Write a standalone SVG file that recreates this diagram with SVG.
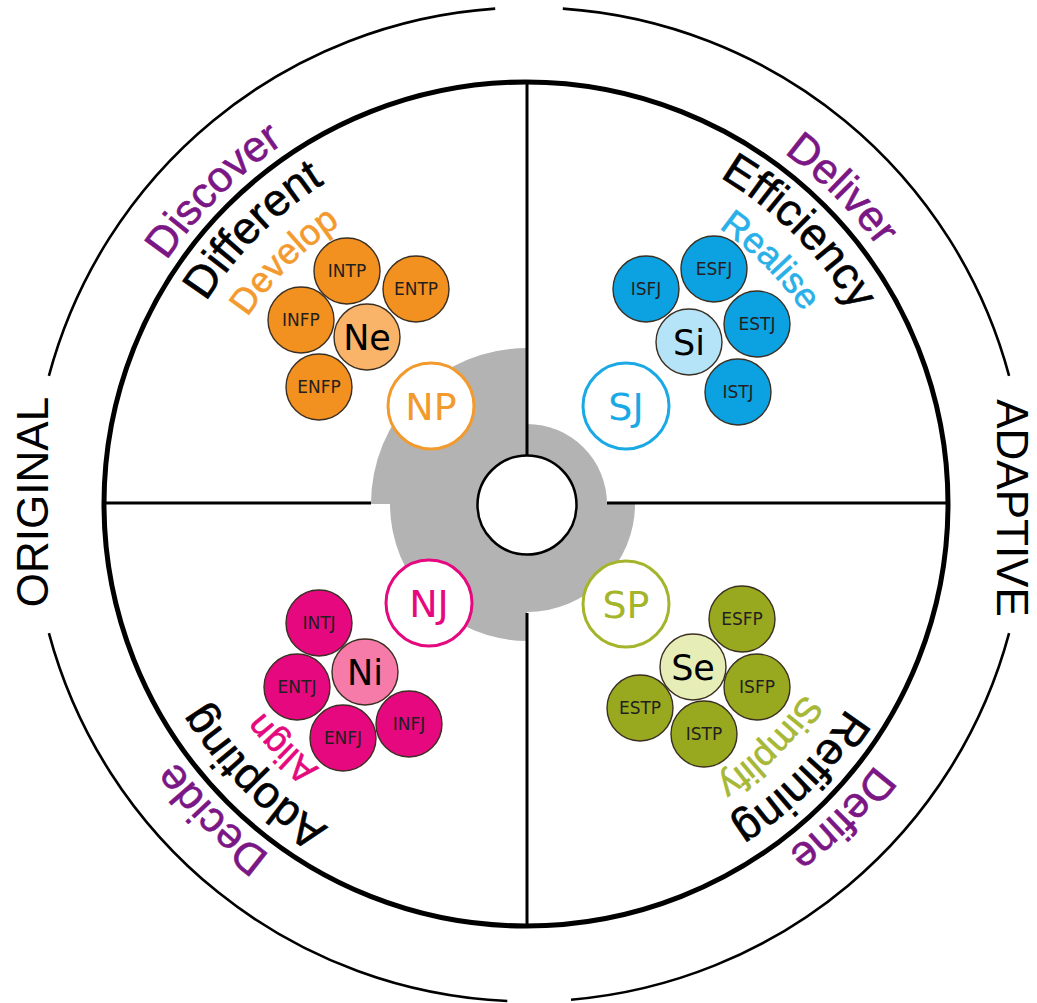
<svg xmlns="http://www.w3.org/2000/svg" xmlns:xlink="http://www.w3.org/1999/xlink" width="1037" height="1003" viewBox="0 0 1037 1003">
  <style>
    .t { font-family: "DejaVu Sans", "Liberation Sans", sans-serif; }
    .cap { font-family: "Liberation Sans", Arial, sans-serif; stroke-width: 0.6; }
    .side { font-family: "Liberation Sans", Arial, sans-serif; font-size: 44px; fill: #000; text-anchor: middle; }
    .ring { fill: none; stroke: #000; }
    .outer { stroke-width: 2.6; }
    .main { stroke-width: 5; }
    .div { stroke: #000; stroke-width: 3; fill: none; }
    .hubfill { fill: #b3b3b3; }
    .type circle { stroke: #3a2f22; stroke-width: 1.4; }
    .type text { font-size: 17px; text-anchor: middle; fill: #231f20; }
    .fn circle { stroke: #3a2f22; stroke-width: 1.4; }
    .fn text { font-size: 35px; text-anchor: middle; fill: #000; }
    .temp circle { fill: #fff; stroke-width: 3; }
    .temp text { font-size: 38px; text-anchor: middle; }
    .phase { font-size: 43px; fill: #7b1685; stroke: #7b1685; }
    .value { font-size: 45px; fill: #000; stroke: #000; }
    .verb { font-size: 36px; }
    .orange { fill: #f2911f; }
    .orange-l { fill: #f9b46a; }
    .blue { fill: #0ca1e0; }
    .blue-l { fill: #b5e3f7; }
    .pink { fill: #e5087e; }
    .pink-l { fill: #f67ba9; }
    .olive { fill: #98a91f; }
    .olive-l { fill: #e7edb6; }
  </style>
  <defs>
    <!-- semicircular guides centred on each quadrant's diagonal, clockwise -->
    <path id="p-ul-442" d="M214.5,816.5 A442,442 0 0 1 839.5,191.5"/>
    <path id="p-ur-442" d="M214.5,191.5 A442,442 0 0 1 839.5,816.5"/>
    <path id="p-lr-442" d="M839.5,191.5 A442,442 0 0 1 214.5,816.5"/>
    <path id="p-ll-442" d="M839.5,816.5 A442,442 0 0 1 214.5,191.5"/>
    <path id="p-ul-380" d="M258.3,772.7 A380,380 0 0 1 795.7,235.3"/>
    <path id="p-ur-380" d="M258.3,235.3 A380,380 0 0 1 795.7,772.7"/>
    <path id="p-lr-380" d="M795.7,235.3 A380,380 0 0 1 258.3,772.7"/>
    <path id="p-ll-380" d="M795.7,772.7 A380,380 0 0 1 258.3,235.3"/>
    <path id="p-ul-340" d="M286.6,744.4 A340,340 0 0 1 767.4,263.6"/>
    <path id="p-ur-340" d="M286.6,263.6 A340,340 0 0 1 767.4,744.4"/>
    <path id="p-lr-340" d="M767.4,263.6 A340,340 0 0 1 286.6,744.4"/>
    <path id="p-ll-340" d="M767.4,744.4 A340,340 0 0 1 286.6,263.6"/>
  </defs>

  <rect x="0" y="0" width="1037" height="1003" fill="#fff"/>

  <!-- outer ring, broken at top, bottom and both sides -->
  <g id="outer-ring" class="ring outer">
    <path d="M48.9,375.9 A497,497 0 0 1 495.2,8.6"/>
    <path d="M562.8,8.6 A497,497 0 0 1 1009.1,375.9"/>
    <path d="M1009.1,633.1 A497,497 0 0 1 571,999.7"/>
    <path d="M507.3,1001 A497,497 0 0 1 48.9,633.1"/>
  </g>

  <g id="axis-labels">
    <text class="side" transform="translate(48,502) rotate(-90)">ORIGINAL</text>
    <text class="side" transform="translate(997,508) rotate(90)">ADAPTIVE</text>
  </g>

  <!-- main wheel -->
  <g id="wheel">
    <circle cx="526" cy="504" r="422" fill="#fff" class="ring main"/>
  </g>

  <!-- grey hub sectors -->
  <g id="hub">
    <path class="hubfill" d="M527,504 L371,504 A156,156 0 0 1 527,348 Z"/>
    <path class="hubfill" d="M527,504 L527,424 A80,80 0 0 1 607,504 Z"/>
    <path class="hubfill" d="M527,504 L635,504 A108,108 0 0 1 527,612 Z"/>
    <path class="hubfill" d="M527,504 L527,641 A137,137 0 0 1 390,504 Z"/>
  </g>

  <!-- quadrant dividers -->
  <g id="connectors">
    <line class="div" x1="527" y1="82" x2="527" y2="456"/>
    <line class="div" x1="527" y1="613" x2="527" y2="926"/>
    <line class="div" x1="104" y1="503" x2="371" y2="503"/>
    <line class="div" x1="607" y1="503" x2="946" y2="503"/>
  </g>

  <g id="core">
    <circle cx="527" cy="505" r="49.5" fill="#fff" stroke="#000" stroke-width="2.5"/>
  </g>

  <!-- ring captions -->
  <g id="captions" class="cap">
    <text class="phase"><textPath href="#p-ul-442" xlink:href="#p-ul-442" startOffset="50%" text-anchor="middle">Discover</textPath></text>
    <text class="phase"><textPath href="#p-ur-442" xlink:href="#p-ur-442" startOffset="50%" text-anchor="middle">Deliver</textPath></text>
    <text class="phase"><textPath href="#p-lr-442" xlink:href="#p-lr-442" startOffset="50%" text-anchor="middle">Define</textPath></text>
    <text class="phase"><textPath href="#p-ll-442" xlink:href="#p-ll-442" startOffset="50%" text-anchor="middle">Decide</textPath></text>

    <text class="value"><textPath href="#p-ul-380" xlink:href="#p-ul-380" startOffset="50%" text-anchor="middle">Different</textPath></text>
    <text class="value"><textPath href="#p-ur-380" xlink:href="#p-ur-380" startOffset="50%" text-anchor="middle">Efficiency</textPath></text>
    <text class="value"><textPath href="#p-lr-380" xlink:href="#p-lr-380" startOffset="50%" text-anchor="middle">Refining</textPath></text>
    <text class="value"><textPath href="#p-ll-380" xlink:href="#p-ll-380" startOffset="50%" text-anchor="middle">Adopting</textPath></text>

    <text class="verb" fill="#f39a2e" stroke="#f39a2e"><textPath href="#p-ul-340" xlink:href="#p-ul-340" startOffset="50%" text-anchor="middle">Develop</textPath></text>
    <text class="verb" fill="#2ab0e8" stroke="#2ab0e8"><textPath href="#p-ur-340" xlink:href="#p-ur-340" startOffset="50%" text-anchor="middle">Realise</textPath></text>
    <text class="verb" fill="#a6b836" stroke="#a6b836"><textPath href="#p-lr-340" xlink:href="#p-lr-340" startOffset="50%" text-anchor="middle">Simplify</textPath></text>
    <text class="verb" fill="#e5087e" stroke="#e5087e"><textPath href="#p-ll-340" xlink:href="#p-ll-340" startOffset="50%" text-anchor="middle">Align</textPath></text>
  </g>

  <!-- temperament badges -->
  <g id="node-NP" class="t temp"><circle cx="431" cy="406" r="43" stroke="#f39a2e"/><text x="431" y="420" fill="#f39a2e">NP</text></g>
  <g id="node-SJ" class="t temp"><circle cx="626" cy="406" r="43" stroke="#1ba9e6"/><text x="626" y="420" fill="#1ba9e6">SJ</text></g>
  <g id="node-NJ" class="t temp"><circle cx="429" cy="603" r="43" stroke="#e5087e"/><text x="429" y="617" fill="#e5087e">NJ</text></g>
  <g id="node-SP" class="t temp"><circle cx="626" cy="604" r="43" stroke="#a5b52b"/><text x="626" y="618" fill="#a5b52b">SP</text></g>

  <!-- NP cluster -->
  <g id="node-INTP" class="t type"><circle class="orange" cx="347" cy="271" r="33"/><text x="347" y="277">INTP</text></g>
  <g id="node-ENTP" class="t type"><circle class="orange" cx="416" cy="289" r="33"/><text x="416" y="295">ENTP</text></g>
  <g id="node-INFP" class="t type"><circle class="orange" cx="301" cy="320" r="33"/><text x="301" y="326">INFP</text></g>
  <g id="node-ENFP" class="t type"><circle class="orange" cx="319" cy="387" r="33"/><text x="319" y="393">ENFP</text></g>
  <g id="node-Ne" class="t fn"><circle class="orange-l" cx="367" cy="337" r="33"/><text x="367" y="350">Ne</text></g>

  <!-- SJ cluster -->
  <g id="node-ESFJ" class="t type"><circle class="blue" cx="714" cy="269" r="33"/><text x="714" y="275">ESFJ</text></g>
  <g id="node-ISFJ" class="t type"><circle class="blue" cx="646" cy="289" r="33"/><text x="646" y="295">ISFJ</text></g>
  <g id="node-ESTJ" class="t type"><circle class="blue" cx="757" cy="324" r="33"/><text x="757" y="330">ESTJ</text></g>
  <g id="node-ISTJ" class="t type"><circle class="blue" cx="738" cy="392" r="33"/><text x="738" y="398">ISTJ</text></g>
  <g id="node-Si" class="t fn"><circle class="blue-l" cx="689" cy="342" r="33"/><text x="689" y="355">Si</text></g>

  <!-- NJ cluster -->
  <g id="node-INTJ" class="t type"><circle class="pink" cx="319" cy="623" r="33"/><text x="319" y="629">INTJ</text></g>
  <g id="node-ENTJ" class="t type"><circle class="pink" cx="297" cy="687" r="33"/><text x="297" y="693">ENTJ</text></g>
  <g id="node-ENFJ" class="t type"><circle class="pink" cx="343" cy="738" r="33"/><text x="343" y="744">ENFJ</text></g>
  <g id="node-INFJ" class="t type"><circle class="pink" cx="409" cy="724" r="33"/><text x="409" y="730">INFJ</text></g>
  <g id="node-Ni" class="t fn"><circle class="pink-l" cx="365" cy="672" r="33"/><text x="365" y="685">Ni</text></g>

  <!-- SP cluster -->
  <g id="node-ESFP" class="t type"><circle class="olive" cx="742" cy="619" r="33"/><text x="742" y="625">ESFP</text></g>
  <g id="node-ISFP" class="t type"><circle class="olive" cx="757" cy="687" r="33"/><text x="757" y="693">ISFP</text></g>
  <g id="node-ESTP" class="t type"><circle class="olive" cx="640" cy="708" r="33"/><text x="640" y="714">ESTP</text></g>
  <g id="node-ISTP" class="t type"><circle class="olive" cx="704" cy="734" r="33"/><text x="704" y="740">ISTP</text></g>
  <g id="node-Se" class="t fn"><circle class="olive-l" cx="693" cy="667" r="33"/><text x="693" y="680">Se</text></g>
</svg>
